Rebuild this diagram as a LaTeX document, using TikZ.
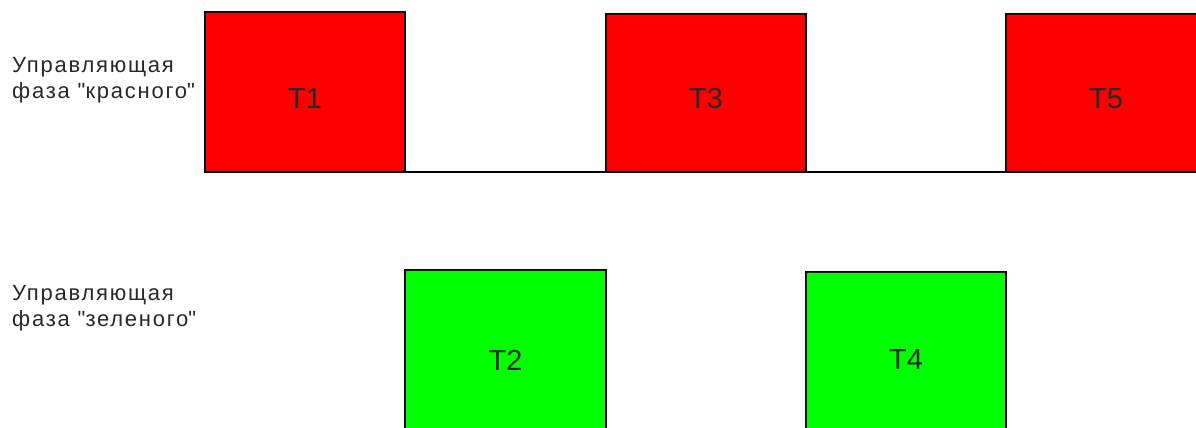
\documentclass[tikz,border=0pt]{standalone}
\usepackage{fontspec}
\setmainfont{Liberation Sans}
\newfontfamily\sidefont[LetterSpace=8]{Liberation Sans}
\definecolor{phasered}{RGB}{255,0,0}
\definecolor{phasegreen}{RGB}{0,255,0}
\definecolor{labelgray}{RGB}{40,40,40}
\begin{document}
\begin{tikzpicture}[x=1pt,y=-1pt,
  phasebox/.style={draw=black,line width=1.6pt,minimum width=200pt,inner sep=0pt,outer sep=0pt},
  redbox/.style={phasebox,fill=phasered},
  greenbox/.style={phasebox,fill=phasegreen},
  tlabel/.style={font=\fontsize{29}{29}\selectfont,text=labelgray},
  sidelabel/.style={font=\sidefont\fontsize{22}{26}\selectfont,text=labelgray,align=left,anchor=north west,inner sep=0pt},
  baseline/.style={draw=black,line width=1.6pt}]
\useasboundingbox (0,0) rectangle (1196,428);
\clip (0,0) rectangle (1196,428);
\fill[white] (0,0) rectangle (1196,428);
% red phase
\node[redbox,minimum height=160pt,label={[tlabel,yshift=-7pt]center:T1}] (t1) at (305,92) {};
\node[redbox,minimum height=158pt,label={[tlabel,yshift=-6pt]center:T3}] (t3) at (706,93) {};
\node[redbox,minimum height=158pt,label={[tlabel,yshift=-6pt]center:T5}] (t5) at (1106,93) {};
\draw[baseline] (t1.south east) -- (t3.south west);
\draw[baseline] (t3.south east) -- (t5.south west);
% green phase
\node[greenbox,minimum width=201pt,minimum height=160pt,label={[tlabel,yshift=-10pt]center:T2}] (t2) at (505.5,350) {};
\node[greenbox,minimum height=160pt,label={[tlabel,yshift=-8pt]center:T4}] (t4) at (906,352) {};
% side labels
\node[sidelabel] (lred) at (12,57) {Управляющая\\фаза \textquotedbl красного\textquotedbl};
\node[sidelabel] (lgreen) at (12,285) {Управляющая\\фаза \textquotedbl зеленого\textquotedbl};
\end{tikzpicture}
\end{document}
